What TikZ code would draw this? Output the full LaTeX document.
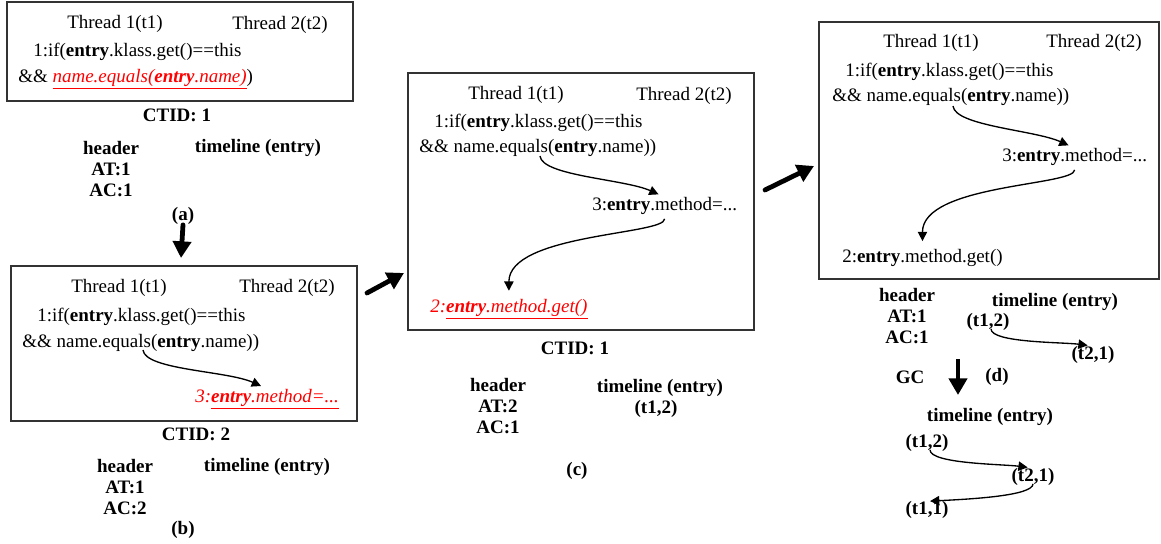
\documentclass[tikz,border=0pt]{standalone}
\usepackage{fontspec}
\setmainfont{Liberation Serif}
\usetikzlibrary{positioning,calc,arrows.meta}
\tikzset{
    every node/.style={font=\fontsize{14.25}{15.75}\selectfont, inner sep=0pt},
    panel/.style={draw=black!80, line width=0.9pt},
    code/.style={anchor=west},
    lbl/.style={font=\fontsize{14.25}{15.75}\selectfont\bfseries, align=center},
    bigarrow/.style={-{Triangle[length=12.5pt, width=13.5pt]}, line width=3.6pt, line cap=round},
    flow/.style={-{Triangle[length=7pt, width=7pt]}, line width=1pt},
}
\newcommand{\ent}{\textbf{entry}}
\newcommand{\hot}[1]{\textcolor{red}{#1}}

\begin{document}
\begin{tikzpicture}[x=0.75pt, y=-0.75pt]
  \useasboundingbox (0,0) rectangle (1161,543);
  % (a) thread 1 reads name
  \coordinate (pa) at (7,2);
  \draw[panel] (pa) rectangle (353,101);
  \node (thA1) at ($(pa)+(108,22)$) {Thread 1(t1)};
  \node (thA2) at ($(pa)+(273,23)$) {Thread 2(t2)};
  \node[code] (ifA) at ($(pa)+(26,50)$) {1:if(\ent.klass.get()==this};
  \node[code] (andA) at ($(pa)+(11,77)$) {\&\& \hot{\underline{\textit{name.equals(\ent.name)}}})};
  \node[lbl] (ctA) at (177,115) {CTID: 1};
  \node[lbl] (hdA) at (111,169) {header\\AT:1\\AC:1};
  \node[lbl] (tlA) at (258,148) {timeline (entry)};
  \node[lbl] (labA) at (183,216) {(a)};
  \coordinate (downA) at (181,258);
  \draw[bigarrow] (labA.south) -- (downA);

  % (b) thread 2 writes method
  \coordinate (pb) at (11,266);
  \draw[panel] (pb) rectangle (357,421);
  \node (thB1) at ($(pb)+(108,22)$) {Thread 1(t1)};
  \node (thB2) at ($(pb)+(276,22)$) {Thread 2(t2)};
  \node[code] (ifB) at ($(pb)+(26,51)$) {1:if(\ent.klass.get()==this};
  \node[code] (andB) at ($(pb)+(11,77)$) {\&\& name.equals(\ent.name))};
  \node[code] (mtB) at (195,399) {\hot{\textit{3:\underline{\ent.method=...}}}};
  \coordinate (sB) at (143,350);
  \draw[flow, shorten >=5pt] (sB) .. controls +(2,20) and +(-40,-18) .. (mtB.north);
  \node[lbl] (ctB) at (196,434) {CTID: 2};
  \node[lbl] (hdB) at (125,487) {header\\AT:1\\AC:2};
  \node[lbl] (tlB) at (267,467) {timeline (entry)};
  \node[lbl] (labB) at (183,530) {(b)};
  \coordinate (arrB1) at (367,293);
  \coordinate (arrB2) at (404,273);
  \draw[bigarrow] (arrB1) -- (arrB2);

  % (c) thread 1 reads method
  \coordinate (pc) at (408,73);
  \draw[panel] (pc) rectangle (754,330);
  \node (thC1) at ($(pc)+(108,22)$) {Thread 1(t1)};
  \node (thC2) at ($(pc)+(276,23)$) {Thread 2(t2)};
  \node[code] (ifC) at ($(pc)+(26,50)$) {1:if(\ent.klass.get()==this};
  \node[code] (andC) at ($(pc)+(11,75)$) {\&\& name.equals(\ent.name))};
  \node[code] (mtC) at (592,206) {3:\ent.method=...};
  \node[code] (gtC) at (430,309) {\hot{\textit{2:\underline{\ent.method.get()}}}};
  \coordinate (sC) at (540,156);
  \draw[flow, shorten >=5pt] (sC) .. controls +(2,20) and +(-40,-18) .. (mtC.north);
  \draw[flow, shorten <=3pt, shorten >=6pt] (mtC.south) .. controls +(0,20) and +(0,-65) .. (gtC.north);
  \node[lbl] (ctC) at (575,348) {CTID: 1};
  \node[lbl] (hdC) at (498,406) {header\\AT:2\\AC:1};
  \node[lbl] (tlC) at (660,388) {timeline (entry)};
  \node[lbl] (t12C) at (656,409) {(t1,2)};
  \node[lbl] (labC) at (577,471) {(c)};
  \coordinate (arrC1) at (765,190);
  \coordinate (arrC2) at (814,166);
  \draw[bigarrow] (arrC1) -- (arrC2);

  % (d) after the race, then GC
  \coordinate (pd) at (819,22);
  \draw[panel] (pd) rectangle (1159,279);
  \node (thD1) at ($(pd)+(112,21)$) {Thread 1(t1)};
  \node (thD2) at ($(pd)+(275,21)$) {Thread 2(t2)};
  \node[code] (ifD) at ($(pd)+(26,50)$) {1:if(\ent.klass.get()==this};
  \node[code] (andD) at ($(pd)+(13,75)$) {\&\& name.equals(\ent.name))};
  \node[code] (mtD) at (1002,157) {3:\ent.method=...};
  \node[code] (gtD) at (842,258) {2:\ent.method.get()};
  \coordinate (sD) at (953,106);
  \draw[flow, shorten >=5pt] (sD) .. controls +(2,20) and +(-40,-18) .. (mtD.north);
  \draw[flow, shorten <=3pt, shorten >=6pt] (mtD.south) .. controls +(0,20) and +(0,-65) .. (gtD.north);
  \node[lbl] (hdD) at (907,316) {header\\AT:1\\AC:1};
  \node[lbl] (tlD) at (1055,302) {timeline (entry)};
  \node[lbl] (t12D) at (988,322) {(t1,2)};
  \node[lbl] (t21D) at (1093,355) {(t2,1)};
  \draw[flow, shorten >=4pt] ($(t12D.south)+(3,-2)$) .. controls +(0,14) and +(-30,-4) .. (t21D.north);
  \node[lbl] (gc) at (910,377) {GC};
  \node[lbl] (labD) at (997,377) {(d)};
  \coordinate (gcS) at (958,359);
  \coordinate (gcE) at (958,395);
  \draw[bigarrow, line cap=butt] (gcS) -- (gcE);
  \node[lbl] (tlE) at (990,417) {timeline (entry)};
  \node[lbl] (t12E) at (927,443) {(t1,2)};
  \node[lbl] (t21E) at (1033,477) {(t2,1)};
  \node[lbl] (t11E) at (927,510) {(t1,1)};
  \draw[flow, shorten >=4pt] ($(t12E.south)+(3,-2)$) .. controls +(0,14) and +(-30,-4) .. (t21E.north);
  \draw[flow] ($(t21E.south)+(0,-2)$) .. controls +(0,12) and +(40,-2) .. ($(t11E.north)+(3,0)$);
\end{tikzpicture}
\end{document}
